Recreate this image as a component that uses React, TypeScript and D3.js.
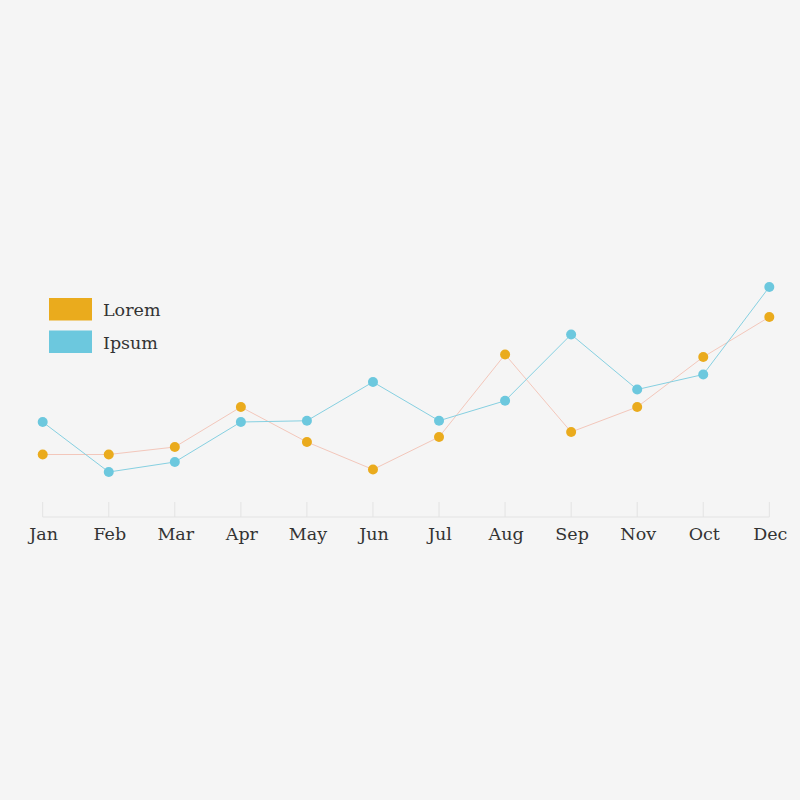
import { useEffect, useRef } from 'react';
import * as d3 from 'd3';

// chart data
const months = ['Jan', 'Feb', 'Mar', 'Apr', 'May', 'Jun', 'Jul', 'Aug', 'Sep', 'Nov', 'Oct', 'Dec'];
const loremValues = [25, 25, 28, 44, 30, 19, 32, 65, 34, 44, 64, 80];
const ipsumValues = [38, 18, 22, 38, 38.5, 54, 38.5, 46.5, 73, 51, 57, 92];
const seriesNames = ['Lorem', 'Ipsum'];

const App = () => {
  const svgRef = useRef<SVGSVGElement>(null);

  useEffect(() => {
    if (!svgRef.current) return;
    const svg = d3.select(svgRef.current);
    svg.selectAll('*').remove();

    const width = 800;
    const height = 800;
    const left = 42.7;
    const right = 769.3;
    const axisY = 517;

    svg.append('rect').attr('width', width).attr('height', height).attr('fill', '#f5f5f5');

    const x = d3.scalePoint<string>().domain(months).range([left, right]);
    const y = d3.scaleLinear().domain([0, 100]).range([axisY, axisY - 250]);

    const series = [
      { name: seriesNames[0], values: loremValues, dot: '#eaab1d', line: '#f3c7bb' },
      { name: seriesNames[1], values: ipsumValues, dot: '#6cc8de', line: '#86d0e1' },
    ];

    // x axis
    const axis = svg.append('g').attr('transform', `translate(0, ${axisY})`);
    axis.append('line')
      .attr('x1', left).attr('x2', right)
      .attr('stroke', '#e3e3e3').attr('stroke-width', 1);
    axis.selectAll('line.tick')
      .data(months)
      .join('line')
      .attr('class', 'tick')
      .attr('x1', d => x(d)!).attr('x2', d => x(d)!)
      .attr('y1', 0).attr('y2', -15)
      .attr('stroke', '#e3e3e3').attr('stroke-width', 1);
    axis.selectAll('text')
      .data(months)
      .join('text')
      .attr('x', d => x(d)! + 1)
      .attr('y', 23)
      .attr('text-anchor', 'middle')
      .attr('font-family', '"DejaVu Serif", serif')
      .attr('font-size', '17.5px')
      .attr('fill', '#333')
      .text(d => d);

    const line = d3.line<number>()
      .x((_, i) => x(months[i])!)
      .y(d => y(d));

    series.forEach(s => {
      svg.append('path')
        .datum(s.values)
        .attr('d', line)
        .attr('fill', 'none')
        .attr('stroke', s.line)
        .attr('stroke-width', 1);
    });

    series.forEach(s => {
      svg.append('g')
        .selectAll('circle')
        .data(s.values)
        .join('circle')
        .attr('cx', (_, i) => x(months[i])!)
        .attr('cy', d => y(d))
        .attr('r', 5)
        .attr('fill', s.dot);
    });

    // legend
    const legend = svg.append('g').attr('transform', 'translate(49, 298)');
    series.forEach((s, i) => {
      const g = legend.append('g').attr('transform', `translate(0, ${i * 32.5})`);
      g.append('rect').attr('width', 43).attr('height', 22.5).attr('fill', s.dot);
      g.append('text')
        .attr('x', 54)
        .attr('y', 18)
        .attr('font-family', '"DejaVu Serif", serif')
        .attr('font-size', '17.5px')
        .attr('fill', '#333')
        .text(s.name);
    });
  }, []);

  return (
    <svg
      ref={svgRef}
      width={800}
      height={800}
      style={{ position: 'absolute', left: 0, top: 0 }}
    />
  );
};

export default App;
